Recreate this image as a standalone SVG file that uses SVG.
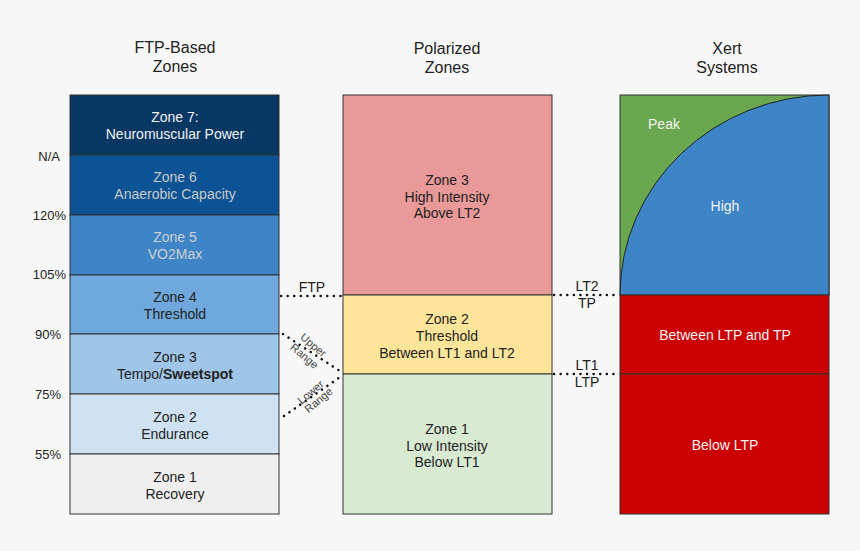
<svg xmlns="http://www.w3.org/2000/svg" width="860" height="551" viewBox="0 0 860 551">
<style>
text{font-family:"Liberation Sans",Arial,sans-serif;font-size:14px;fill:#222;text-anchor:middle}
.t{font-size:16px}
.pct{text-anchor:end;font-size:13px}
.sm{font-size:11px;fill:#444}
.box{stroke:#333;stroke-width:1}
.w{fill:#f3f3f3}
.dot{stroke:#111;stroke-width:2.5;stroke-dasharray:0.1 6.5;stroke-linecap:round;fill:none}
</style>
<rect width="860" height="551" fill="#f7f7f7"/>
<g id="titles">
<text class="t" x="175" y="53">FTP-Based</text><text class="t" x="175" y="72">Zones</text>
<text class="t" x="447" y="54">Polarized</text><text class="t" x="447" y="73">Zones</text>
<text class="t" x="727" y="54">Xert</text><text class="t" x="727" y="73">Systems</text>
</g>
<g id="pcts">
<text class="pct" x="60" y="161">N/A</text>
<text class="pct" x="66" y="220">120%</text>
<text class="pct" x="66" y="279">105%</text>
<text class="pct" x="61" y="339">90%</text>
<text class="pct" x="61" y="399">75%</text>
<text class="pct" x="61" y="459">55%</text>
</g>
<g id="z7"><rect class="box" x="70" y="95" width="209" height="60" fill="#073763"/><text class="w" x="175" y="122">Zone 7:</text><text class="w" x="175" y="139">Neuromuscular Power</text></g>
<g id="z6"><rect class="box" x="70" y="155" width="209" height="60" fill="#0b5394"/><text x="175" y="182" style="fill:#c9c9c9">Zone 6</text><text x="175" y="199" style="fill:#c9c9c9">Anaerobic Capacity</text></g>
<g id="z5"><rect class="box" x="70" y="215" width="209" height="60" fill="#3d85c6"/><text x="175" y="242" style="fill:#cfcfcf">Zone 5</text><text x="175" y="259" style="fill:#cfcfcf">VO2Max</text></g>
<g id="z4"><rect class="box" x="70" y="275" width="209" height="59" fill="#6fa8dc"/><text x="175" y="302">Zone 4</text><text x="175" y="319">Threshold</text></g>
<g id="z3"><rect class="box" x="70" y="334" width="209" height="60" fill="#9fc5e8"/><text x="175" y="362">Zone 3</text><text x="175" y="379">Tempo/<tspan font-weight="bold">Sweetspot</tspan></text></g>
<g id="z2"><rect class="box" x="70" y="394" width="209" height="60" fill="#cfe2f3"/><text x="175" y="422">Zone 2</text><text x="175" y="439">Endurance</text></g>
<g id="z1"><rect class="box" x="70" y="454" width="209" height="60" fill="#efefef"/><text x="175" y="482">Zone 1</text><text x="175" y="499">Recovery</text></g>
<g id="p3"><rect class="box" x="343" y="95" width="209" height="200" fill="#ea9999"/><text x="447" y="185">Zone 3</text><text x="447" y="202">High Intensity</text><text x="447" y="218">Above LT2</text></g>
<g id="p2"><rect class="box" x="343" y="295" width="209" height="79" fill="#ffe599"/><text x="447" y="324">Zone 2</text><text x="447" y="341">Threshold</text><text x="447" y="358">Between LT1 and LT2</text></g>
<g id="p1"><rect class="box" x="343" y="374" width="209" height="140" fill="#d9ead3"/><text x="447" y="434">Zone 1</text><text x="447" y="451">Low Intensity</text><text x="447" y="467">Below LT1</text></g>
<g id="xhigh"><rect class="box" x="620" y="95" width="209" height="200" fill="#6aa84f"/><path d="M620,295 A209,200 0 0 1 829,95 L829,295 Z" fill="#3d85c6" stroke="#222" stroke-width="1"/><text class="w" x="664" y="129">Peak</text><text class="w" x="725" y="211">High</text></g>
<g id="xmid"><rect class="box" x="620" y="295" width="209" height="79" fill="#cc0000"/><text class="w" x="725" y="340">Between LTP and TP</text></g>
<g id="xlow"><rect class="box" x="620" y="374" width="209" height="140" fill="#cc0000"/><text class="w" x="725" y="450">Below LTP</text></g>
<g id="connectors">
<path class="dot" d="M281,296 L343,296"/>
<path class="dot" d="M554,295 L620,295"/>
<path class="dot" d="M554,374 L620,374"/>
<path class="dot" d="M283,334 L343,373"/>
<path class="dot" d="M284,416 L343,375"/>
<text x="312" y="292">FTP</text>
<text x="587" y="291">LT2</text><text x="587" y="308">TP</text>
<text x="587" y="370">LT1</text><text x="587" y="387">LTP</text>
<text class="sm" transform="translate(311,348) rotate(40)">Upper</text>
<text class="sm" transform="translate(302,359) rotate(40)">Range</text>
<text class="sm" transform="translate(313,395) rotate(-40)">Lower</text>
<text class="sm" transform="translate(321,403) rotate(-40)">Range</text>
</g>
</svg>
